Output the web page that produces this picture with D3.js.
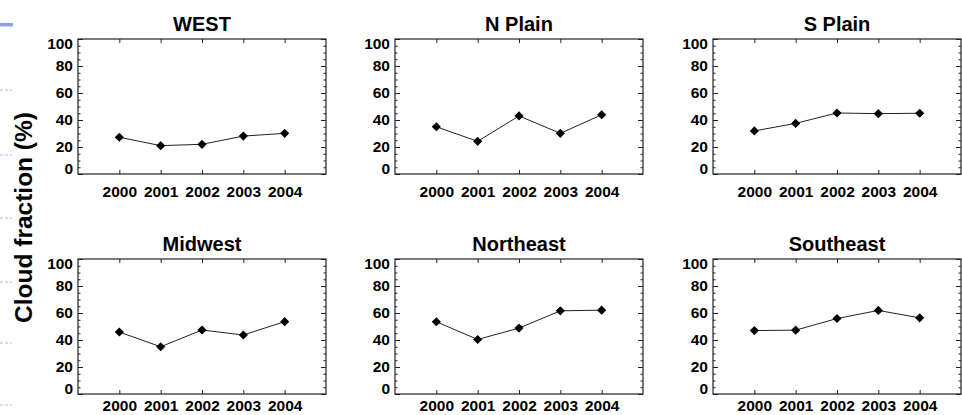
<!DOCTYPE html>
<html>
<head>
<meta charset="utf-8">
<script src="https://cdn.jsdelivr.net/npm/d3@7"></script>
<style>
  html, body { margin: 0; padding: 0; background: #fff; }
  svg { display: block; }
  text { font-family: "Liberation Sans", Arial, Helvetica, sans-serif; font-weight: bold; fill: #000; }
</style>
</head>
<body>
<svg id="chart" width="962" height="415"></svg>
<script>
// Annual mean cloud fraction by US region
const years = [2000, 2001, 2002, 2003, 2004];
const regions = ["WEST", "N Plain", "S Plain", "Midwest", "Northeast", "Southeast"];
const west      = [27.2, 21.0, 22.0, 28.1, 30.1];
const nPlain    = [35.0, 24.2, 43.0, 30.1, 43.9];
const sPlain    = [31.9, 37.5, 45.2, 44.7, 45.0];
const midwest   = [45.9, 35.0, 47.4, 43.7, 53.6];
const northeast = [53.5, 40.4, 48.8, 61.6, 62.1];
const southeast = [47.0, 47.3, 55.9, 61.9, 56.4];
const yTicks = [0, 20, 40, 60, 80, 100];
const yMinorTicks = [5, 10, 15, 25, 30, 35, 45, 50, 55, 65, 70, 75, 85, 90, 95];
const yLabel = "Cloud fraction (%)";

const series = [west, nPlain, sPlain, midwest, northeast, southeast];

const svg = d3.select("#chart");

// slide background ornaments on the left edge
svg.append("rect").attr("x", 0).attr("y", 23).attr("width", 13).attr("height", 3.5)
  .attr("fill", "#8fa0ec");
[90, 155, 218, 282, 343, 405].forEach(yy => {
  svg.append("line").attr("x1", 0).attr("x2", 12).attr("y1", yy).attr("y2", yy)
    .attr("stroke", "#c9d1f2").attr("stroke-width", 1.5).attr("stroke-dasharray", "3,2");
});

// panel grid
const colLeft = [78, 395, 713];
const rowTop = [39, 259];
const yearPad = [12.3, 6.4];
const boxW = 248, boxH = 135;

regions.forEach((name, i) => {
  const col = i % 3, row = Math.floor(i / 3);
  const x0 = colLeft[col], y0 = rowTop[row];
  const x = d3.scaleLinear().domain([1999, 2005]).range([x0, x0 + boxW]);
  const y = d3.scaleLinear().domain([0, 100]).range([y0 + boxH, y0]);
  const g = svg.append("g");

  // left axis with labels, ticks pointing inward
  const left = g.append("g").attr("transform", `translate(${x0},0)`)
    .call(d3.axisLeft(y).tickValues(yTicks).tickSize(-5).tickPadding(5).tickFormat(d3.format("d")));
  left.selectAll("text").style("font-size", "15.5px")
    .attr("dy", d => d === 100 ? "0.62em" : d === 0 ? "-0.05em" : "0.32em");
  g.append("g").attr("transform", `translate(${x0},0)`)
    .call(d3.axisLeft(y).tickValues(yMinorTicks).tickSize(-2.5).tickFormat(""));

  // right axis, mirrored ticks
  g.append("g").attr("transform", `translate(${x0 + boxW},0)`)
    .call(d3.axisRight(y).tickValues(yTicks).tickSize(-5).tickFormat(""));
  g.append("g").attr("transform", `translate(${x0 + boxW},0)`)
    .call(d3.axisRight(y).tickValues(yMinorTicks).tickSize(-2.5).tickFormat(""));

  // bottom axis with year labels
  const bottom = g.append("g").attr("transform", `translate(0,${y0 + boxH})`)
    .call(d3.axisBottom(x).tickValues(years).tickSize(-4).tickPadding(yearPad[row]).tickFormat(d3.format("d")));
  bottom.selectAll("text").style("font-size", "15.5px");

  // top axis, mirrored ticks
  g.append("g").attr("transform", `translate(0,${y0})`)
    .call(d3.axisTop(x).tickValues(years).tickSize(-4).tickFormat(""));

  g.selectAll(".domain").remove();
  g.selectAll(".tick line").attr("stroke", "#222").attr("stroke-width", 1);

  // frame
  g.append("rect").attr("x", x0).attr("y", y0).attr("width", boxW).attr("height", boxH)
    .attr("fill", "none").attr("stroke", "#222").attr("stroke-width", 1.2);

  // title
  g.append("text").attr("x", x0 + boxW / 2).attr("y", y0 - 8.5)
    .attr("text-anchor", "middle").style("font-size", "20px").text(name);

  // data line and diamond markers
  const pts = years.map((yr, k) => [yr, series[i][k]]);
  g.append("path").datum(pts)
    .attr("fill", "none").attr("stroke", "#222").attr("stroke-width", 1)
    .attr("d", d3.line().x(d => x(d[0])).y(d => y(d[1])));
  g.selectAll(".mark").data(pts).join("path")
    .attr("class", "mark")
    .attr("d", d3.symbol(d3.symbolSquare, 42)())
    .attr("transform", d => `translate(${x(d[0])},${y(d[1])}) rotate(45)`)
    .attr("fill", "#000");
});

// shared y-axis title
svg.append("text")
  .attr("transform", "translate(31.5,217.5) rotate(-90)")
  .attr("text-anchor", "middle")
  .style("font-size", "24.5px")
  .text(yLabel);
</script>
</body>
</html>
